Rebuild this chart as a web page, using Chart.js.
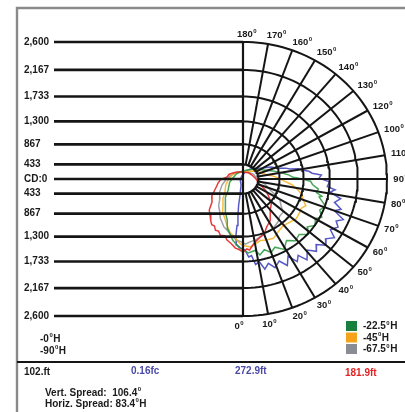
<!DOCTYPE html>
<html>
<head>
<meta charset="utf-8">
<script src="https://cdn.jsdelivr.net/npm/chart.js@4.4.1/dist/chart.umd.min.js"></script>
<style>
  html, body { margin: 0; background: #fff; }
  #caixa { position: relative; width: 405px; height: 412px; }
</style>
</head>
<body>
<div id="caixa"><canvas id="grafico"></canvas></div>
<script>
// anéis de candela e rótulos dos ângulos
const maxCd = 2600;
const ringValues = [433, 867, 1300, 1733, 2167, 2600];
const centerLabel = "CD:0";
const angleTicks = [0, 10, 20, 30, 40, 50, 60, 70, 80, 90, 100, 110, 120, 130, 140, 150, 160, 170, 180];
const angleTickLabels = ["0⁰", "10⁰", "20⁰", "30⁰", "40⁰", "50⁰", "60⁰", "70⁰", "80⁰", "90⁰", "110⁰", "100⁰", "120⁰", "130⁰", "140⁰", "150⁰", "160⁰", "170⁰", "180⁰"];

// curvas (ângulo a partir de baixo, candela)
const ang0H = [-157, -140, -122, -110, -98, -88, -80, -74, -68, -60, -52, -46, -41, -36, -33, -30, -27, -24, -21, -17, -14, -10, -6, -3, 0, 3, 5, 10, 16, 20, 25, 32, 40, 48, 56, 63, 70, 90, 115, 140, -157];
const cd0H = [256, 300, 351, 420, 450, 590, 648, 690, 747, 860, 921, 1060, 1120, 1200, 1245, 1240, 1300, 1290, 1347, 1330, 1394, 1440, 1510, 1530, 1571, 1520, 1541, 1420, 1350, 1320, 1219, 1140, 977, 900, 747, 640, 496, 380, 305, 270, 256];

const ang22H = [157, 135, 117, 106, 99, 95, 92, 91, 90, 88, 85, 82, 79, 77, 76, 71, 67, 63, 60, 56, 52, 48, 44, 39, 34, 29, 24, 20, 16, 12, 9, 4, 0, -3, -5, -9, -12, -16, -20, -26, -33, -42, -52, -75, -96, -130, -157, 157];
const cd22H = [317, 420, 563, 760, 930, 1050, 1115, 1200, 1274, 1420, 1460, 1560, 1540, 1640, 1600, 1740, 1680, 1760, 1680, 1740, 1650, 1740, 1640, 1680, 1590, 1700, 1600, 1660, 1580, 1650, 1560, 1590, 1536, 1500, 1455, 1380, 1298, 1200, 1043, 930, 795, 660, 510, 400, 310, 270, 256, 317];

const ang45H = [140, 120, 103, 97, 92, 87, 83, 78, 74, 70, 66, 62, 59, 52, 46, 39, 32, 26, 20, 15, 10, 6, 2, -1, -4, -7, -10, -13, -16, -20, -24, -30, -36, -44, -53, -70, -86, -110, -132, 140];
const cd45H = [331, 450, 592, 720, 839, 960, 1105, 1230, 1313, 1360, 1439, 1390, 1404, 1420, 1380, 1350, 1390, 1450, 1430, 1410, 1450, 1490, 1466, 1450, 1400, 1330, 1287, 1250, 1180, 1100, 1022, 950, 818, 720, 592, 500, 425, 350, 296, 331];

const ang67H = [145, 115, 86, 76, 67, 63, 59, 54, 49, 43, 38, 30, 24, 17, 11, 6, 2, -2, -6, -11, -17, -21, -25, -29, -34, -41, -49, -60, -73, -88, -104, -130, -150, 145];
const cd67H = [281, 350, 425, 600, 730, 850, 990, 1060, 1170, 1180, 1240, 1290, 1310, 1330, 1383, 1400, 1436, 1390, 1368, 1300, 1219, 1180, 1113, 1060, 964, 880, 752, 680, 578, 470, 388, 300, 270, 281];

const ang90H = [160, 140, 121, 114, 108, 105, 102.6, 101, 99, 97, 95, 93, 90.7, 88, 84.6, 83, 81, 78, 75, 72, 70, 67, 64.6, 62, 58.6, 56, 52.7, 50, 46.7, 44, 40.7, 37, 34.5, 32, 29, 26, 22.8, 19, 16, 13, 10.6, 8, 6, 4, 1.5, -2, -5, -6, -6.8, -7, -7.6, -9, -10, -17, -60, -150, 170, 160];
const cd90H = [281, 420, 583, 760, 875, 1010, 1080, 1230, 1287, 1400, 1448, 1600, 1560, 1730, 1700, 1830, 1760, 1940, 1860, 1990, 1900, 2080, 1990, 2060, 1980, 2100, 2000, 2070, 1950, 2030, 1920, 2040, 1900, 1980, 1830, 1960, 1840, 1920, 1820, 1900, 1760, 1800, 1640, 1660, 1536, 1500, 1455, 1370, 1280, 1100, 898, 700, 473, 221, 120, 120, 200, 281];

const seriesNames = ["-0⁰H", "-22.5⁰H", "-45⁰H", "-67.5⁰H", "-90⁰H"];
const footerValues = ["102.ft", "0.16fc", "272.9ft", "181.9ft"];
const spreadLabels = ["Vert. Spread:  106.4⁰", "Horiz. Spread: 83.4⁰H"];

// escala radial não linear do gráfico original
function raio(cd) { return Math.pow(cd / maxCd, 1.25); }
function polar(ang, cd) {
    const r = raio(cd), a = ang * Math.PI / 180;
    return { x: r * Math.sin(a), y: -r * Math.cos(a) };
}

const FONTE = '"Liberation Sans", Arial, sans-serif';
const X_ESQ = -1.3125;
const datasets = [];

function linha(pontos, largura) {
    datasets.push({
        data: pontos, showLine: true, borderColor: "#151515", borderWidth: largura,
        pointRadius: 0, fill: false, order: 0, borderCapStyle: "butt"
    });
}

// linhas horizontais da esquerda
ringValues.forEach(v => {
    linha([{ x: X_ESQ, y: raio(v) }, { x: 0, y: raio(v) }], 2.7);
    linha([{ x: X_ESQ, y: -raio(v) }, { x: 0, y: -raio(v) }], 2.7);
});
linha([{ x: X_ESQ, y: 0 }, { x: 0, y: 0 }], 2.7);
linha([{ x: 0, y: -raio(maxCd) }, { x: 0, y: raio(maxCd) }], 2.2);

// arcos
ringValues.forEach(v => {
    const pts = [];
    for (let a = 0; a <= 180; a += 2) pts.push(polar(a, v));
    linha(pts, 2);
});

// raios
angleTicks.filter(a => a > 0 && a < 180).forEach(a => {
    linha([polar(a, ringValues[0]), polar(a, maxCd)], 2);
});

const curvas = [
    { ang: ang0H, cd: cd0H, cor: "rgba(226,38,38,0.9)" },
    { ang: ang22H, cd: cd22H, cor: "rgba(40,150,60,0.85)" },
    { ang: ang45H, cd: cd45H, cor: "rgba(246,176,30,0.85)" },
    { ang: ang67H, cd: cd67H, cor: "rgba(150,150,158,0.9)" },
    { ang: ang90H, cd: cd90H, cor: "rgba(70,70,190,0.9)" }
];
const coresLegenda = ["#d22", "#16803c", "#f6a21c", "#8b8b93", "#4646be"];

curvas.forEach((c, i) => {
    datasets.push({
        label: seriesNames[i],
        data: c.ang.map((a, k) => polar(a, c.cd[k])),
        showLine: true, borderColor: c.cor, borderWidth: 1.5,
        pointRadius: 0, fill: false, order: 1
    });
});

function textoSup(ctx, txt, x, y, align, tam, cor) {
    const partes = txt.split("⁰");
    const fN = `bold ${tam}px ${FONTE}`;
    const fS = `bold ${Math.round(tam * 0.62)}px ${FONTE}`;
    ctx.font = fN;
    const w0 = ctx.measureText(partes[0]).width;
    let wS = 0, w1 = 0;
    if (partes.length > 1) {
        ctx.font = fS; wS = ctx.measureText("0").width + 1;
        ctx.font = fN; w1 = ctx.measureText(partes[1]).width;
    }
    const total = w0 + wS + w1;
    const x0 = align === "center" ? x - total / 2 : align === "right" ? x - total : x;
    ctx.fillStyle = cor || "#1a1a1a";
    ctx.textAlign = "left";
    ctx.textBaseline = "middle";
    ctx.font = fN;
    ctx.fillText(partes[0], x0, y);
    if (partes.length > 1) {
        ctx.font = fS;
        ctx.fillText("0", x0 + w0 + 0.5, y - tam * 0.32);
        ctx.font = fN;
        ctx.fillText(partes[1], x0 + w0 + wS, y);
    }
}

const textos = {
    id: "textos",
    beforeDraw(chart) {
        const ctx = chart.ctx;
        ctx.save();
        ctx.fillStyle = "#fff";
        ctx.fillRect(0, 0, chart.width, chart.height);
        ctx.strokeStyle = "#8a8a8a";
        ctx.lineWidth = 2.4;
        ctx.beginPath();
        ctx.moveTo(17, 412); ctx.lineTo(17, 8); ctx.lineTo(405, 8);
        ctx.stroke();
        ctx.strokeStyle = "#151515";
        ctx.lineWidth = 2;
        ctx.beginPath();
        ctx.moveTo(17, 362); ctx.lineTo(405, 362);
        ctx.stroke();
        ctx.restore();
    },
    afterDraw(chart) {
        const ctx = chart.ctx;
        const xs = chart.scales.x, ys = chart.scales.y;
        ctx.save();

        // rótulos da esquerda
        ringValues.forEach(v => {
            const t = v.toLocaleString("en-US");
            textoSup(ctx, t, 24, ys.getPixelForValue(raio(v)), "left", 10);
            textoSup(ctx, t, 24, ys.getPixelForValue(-raio(v)), "left", 10);
        });
        textoSup(ctx, centerLabel, 24, ys.getPixelForValue(0), "left", 10);

        // rótulos dos ângulos
        angleTicks.forEach((a, i) => {
            const r = 1.065, rad = a * Math.PI / 180;
            const px = xs.getPixelForValue(r * Math.sin(rad));
            const py = ys.getPixelForValue(-r * Math.cos(rad));
            const t = angleTickLabels[i];
            if (a === 0) textoSup(ctx, t, px + 1, py + 1, "right", 9.5);
            else if (a === 10) textoSup(ctx, t, px, py + 2, "center", 9.5);
            else if (a === 180) textoSup(ctx, t, px - 6, py + 1, "left", 9.5);
            else textoSup(ctx, t, px - 3, py, "left", 9.5);
        });

        // legenda
        textoSup(ctx, seriesNames[0], 40, 339, "left", 10);
        textoSup(ctx, seriesNames[4], 40, 351, "left", 10);
        [1, 2, 3].forEach((s, k) => {
            const y = 321 + k * 11.5;
            ctx.fillStyle = coresLegenda[s];
            ctx.fillRect(346, y, 11, 10);
            textoSup(ctx, seriesNames[s], 363, y + 5.5, "left", 10);
        });

        // rodapé
        textoSup(ctx, footerValues[0], 24, 372, "left", 10);
        textoSup(ctx, footerValues[1], 131, 371, "left", 10, "#4a4aa6");
        textoSup(ctx, footerValues[2], 235, 371, "left", 10, "#4a4aa6");
        textoSup(ctx, footerValues[3], 345, 373, "left", 10, "#e02424");
        textoSup(ctx, spreadLabels[0], 45, 393, "left", 10);
        textoSup(ctx, spreadLabels[1], 45, 404, "left", 10);
        ctx.restore();
    }
};

new Chart(document.getElementById("grafico").getContext("2d"), {
    type: "scatter",
    data: { datasets },
    options: {
        responsive: true,
        maintainAspectRatio: false,
        animation: false,
        layout: { padding: 0 },
        plugins: { legend: { display: false }, tooltip: { enabled: false } },
        scales: {
            x: { type: "linear", display: false, min: -243 / 144, max: 162 / 144 },
            y: { type: "linear", display: false, min: -233 / 137, max: 179 / 137 }
        }
    },
    plugins: [textos]
});
</script>
</body>
</html>
